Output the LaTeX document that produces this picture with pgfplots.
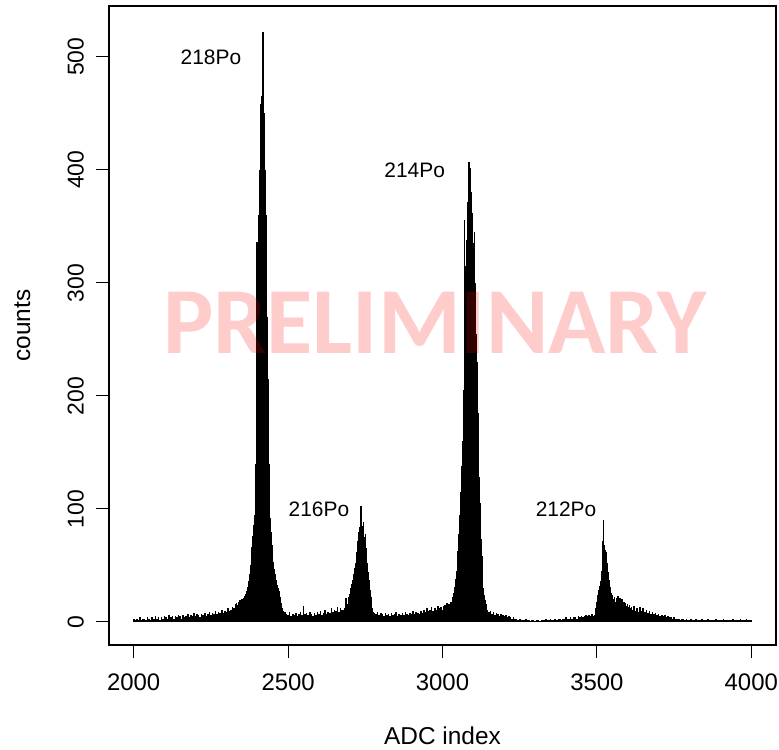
\documentclass[border=0pt]{standalone}
\usepackage{fontspec}
\setmainfont{Liberation Sans}
\newfontfamily\wmfont{Carlito}
\usepackage{pgfplots}
\pgfplotsset{compat=1.18}
\usetikzlibrary{calc}

\begin{document}
\begin{tikzpicture}
\begin{axis}[
  name=ax,
  scale only axis,
  width=667bp, height=639bp,
  xmin=1920, xmax=4080,
  ymin=-20.4, ymax=545,
  xtick={2000,2500,3000,3500,4000},
  ytick={0,100,200,300,400,500},
  tick pos=left,
  tick align=outside,
  major tick length=13bp,
  axis line style={line width=1.1bp},
  every tick/.style={black, line width=1.1bp},
  /pgf/number format/assume math mode=true,
  /pgf/number format/1000 sep={},
  xticklabel style={font=\fontsize{24}{24}\selectfont, inner sep=0pt, anchor=north, yshift=-16bp},
  yticklabel style={font=\fontsize{23}{23}\selectfont, inner sep=0pt, xshift=-12bp, rotate=90, anchor=south},
  xlabel={ADC index},
  ylabel={counts},
  xlabel style={font=\fontsize{24.5}{24.5}\selectfont, at={(axis description cs:0.5,-0.142)}, anchor=center},
  ylabel style={font=\fontsize{24.5}{24.5}\selectfont, at={(axis description cs:-0.130,0.5)}, anchor=center},
]
% spectrum, one spike per channel group (R type="h")
\addplot[ycomb, black, line width=1.6bp, mark=none] coordinates {
(2000,3)(2005,2)(2010,3)(2015,2)(2020,4)(2025,2)(2030,3)(2035,3)(2040,2)(2045,4)
(2050,3)(2055,2)(2060,4)(2065,3)(2070,5)(2075,3)(2080,4)(2085,2)(2090,4)(2095,3)
(2100,5)(2105,4)(2110,3)(2115,6)(2120,4)(2125,5)(2130,3)(2135,5)(2140,4)(2145,6)
(2150,5)(2155,3)(2160,6)(2165,4)(2170,5)(2175,7)(2180,4)(2185,6)(2190,5)(2195,8)
(2200,5)(2205,7)(2210,6)(2215,4)(2220,7)(2225,6)(2230,8)(2235,5)(2240,7)(2245,9)
(2250,6)(2255,8)(2260,7)(2265,10)(2270,7)(2275,9)(2280,8)(2285,11)(2290,8)(2295,10)
(2300,9)(2305,12)(2310,10)(2315,11)(2320,13)(2325,12)(2330,16)
(2333,17)(2336,15)(2339,18)(2342,16)(2345,19)(2348,17)(2351,20)(2354,18)(2357,21)
(2360,23)(2363,25)(2366,27)(2369,31)(2372,36)(2375,42)(2378,50)(2381,57)(2384,66)
(2387,76)(2390,86)(2392,95)(2394,115)(2396,140)(2398,171)(2400,336)(2402,280)
(2404,330)(2406,360)(2408,400)(2410,440)(2412,458)(2414,452)(2416,465)(2418,522)
(2420,455)(2422,450)(2424,438)(2426,400)(2428,360)(2430,322)(2432,270)(2434,215)
(2436,171)(2438,140)(2440,105)(2442,92)(2444,80)(2447,68)(2450,60)(2453,53)
(2456,47)(2459,42)(2462,37)(2465,33)(2468,30)(2471,27)(2474,22)(2477,17)(2480,12)
(2483,10)(2486,8)(2490,9)
(2495,7)(2500,6)(2505,9)(2510,5)(2515,7)(2520,6)(2525,8)(2530,5)(2535,7)(2540,9)
(2545,6)(2550,14)(2555,7)(2560,8)(2565,6)(2570,9)(2575,7)(2580,5)(2585,8)(2590,6)
(2595,9)(2600,7)(2605,10)(2610,6)(2615,8)(2620,11)(2625,7)(2630,9)(2635,8)(2640,12)
(2645,9)(2650,11)(2655,10)(2660,13)(2665,9)(2670,12)(2675,11)
(2678,10)(2681,11)(2684,12)(2687,21)(2690,13)(2694,16)(2697,22)(2700,25)(2704,30)
(2707,34)(2710,37)(2713,42)(2716,48)(2719,52)(2722,62)(2725,72)(2728,80)(2731,84)
(2734,90)(2736,103)(2738,92)(2741,85)(2744,88)(2747,75)(2750,78)(2753,65)(2756,52)
(2759,44)(2762,37)(2765,28)(2768,22)(2771,12)(2775,9)(2780,8)
(2785,7)(2790,9)(2795,6)(2800,8)(2805,7)(2810,5)(2815,8)(2820,6)(2825,7)(2830,5)
(2835,8)(2840,6)(2845,7)(2850,9)(2855,5)(2860,7)(2865,6)(2870,8)(2875,6)(2880,9)
(2885,7)(2890,6)(2895,8)(2900,7)(2905,10)(2910,7)(2915,9)(2920,8)(2925,7)(2930,10)
(2935,8)(2940,11)(2945,9)(2950,12)(2955,10)(2960,11)(2965,13)(2970,10)(2975,12)
(2980,11)(2985,14)(2990,12)(2995,13)
(3000,11)(3003,14)(3006,12)(3009,15)(3012,13)(3015,17)(3018,14)(3021,16)(3024,15)
(3027,18)(3030,17)(3033,22)(3036,26)(3039,31)(3042,38)(3045,45)(3048,53)(3051,63)
(3054,78)(3057,95)(3060,115)(3063,138)(3066,160)(3068,182)(3070,205)(3071,356)
(3073,270)(3075,300)(3077,315)(3079,338)(3081,350)(3083,372)(3085,395)(3086,407)
(3088,388)(3090,398)(3091,402)(3093,380)(3095,362)(3097,356)(3099,335)(3101,325)
(3103,345)(3105,300)(3107,285)(3109,255)(3111,230)(3113,205)(3115,185)(3117,155)
(3119,128)(3121,105)(3123,88)(3125,73)(3127,58)(3129,42)(3131,30)(3134,24)(3137,19)
(3140,16)(3143,13)(3146,11)(3150,9)
(3155,10)(3160,7)(3165,9)(3170,6)(3175,8)(3180,7)(3185,5)(3190,7)(3195,6)(3200,5)
(3205,6)(3210,4)(3215,5)(3220,4)(3225,3)(3230,4)(3235,3)(3240,3)(3245,2)(3250,3)
(3255,2)(3260,2)(3265,2)(3270,3)(3275,2)(3280,2)(3285,1)(3290,2)(3295,2)(3300,1)
(3305,2)(3310,2)(3315,1)(3320,2)(3325,2)(3330,2)(3335,3)(3340,2)(3345,2)(3350,3)
(3355,2)(3360,2)(3365,3)(3370,2)(3375,3)(3380,3)(3385,2)(3390,3)(3395,3)(3400,4)
(3405,3)(3410,3)(3415,4)(3420,3)(3425,4)(3430,4)(3435,3)(3440,5)(3445,4)(3450,5)
(3455,4)(3460,5)(3465,6)(3470,5)(3475,6)(3480,5)(3485,7)
(3490,5)(3493,6)(3496,8)(3498,12)(3500,18)(3503,24)(3506,28)(3509,32)(3512,36)
(3515,45)(3518,60)(3520,72)(3521,90)(3523,68)(3525,66)(3527,64)(3529,62)(3531,58)
(3533,52)(3536,44)(3539,37)(3542,31)(3545,26)(3548,22)(3551,24)(3554,20)(3557,22)
(3560,18)(3563,21)(3566,19)(3569,23)(3572,18)(3575,21)(3578,17)(3581,20)(3584,16)
(3587,18)(3590,15)(3593,17)(3596,14)(3599,16)(3602,13)(3605,15)(3608,12)
(3612,13)(3616,11)(3620,14)(3625,10)(3630,12)(3635,9)(3640,13)(3645,10)(3650,12)
(3655,9)(3660,11)(3665,8)(3670,10)(3675,7)(3680,9)(3685,7)(3690,8)(3695,6)(3700,7)
(3705,5)(3710,6)(3715,5)(3720,6)(3725,4)(3730,5)(3735,4)(3740,4)(3745,3)(3750,4)
(3755,3)(3760,3)(3765,3)(3770,2)(3775,3)(3780,3)(3785,2)(3790,3)(3795,2)(3800,2)
(3805,3)(3810,2)(3815,2)(3820,3)(3825,2)(3830,2)(3835,2)(3840,3)(3845,2)(3850,2)
(3855,2)(3860,3)(3865,2)(3870,2)(3875,2)(3880,2)(3885,3)(3890,2)(3895,2)(3900,2)
(3905,2)(3910,3)(3915,2)(3920,2)(3925,2)(3930,2)(3935,2)(3940,3)(3945,2)(3950,2)
(3955,2)(3960,2)(3965,3)(3970,2)(3975,2)(3980,2)(3985,3)(3990,2)(3995,2)(4000,2)
};
% peak labels
\node[font=\fontsize{21}{21}\selectfont] at (axis cs:2250,500) {218Po};
\node[font=\fontsize{21}{21}\selectfont] at (axis cs:2600,100) {216Po};
\node[font=\fontsize{21}{21}\selectfont] at (axis cs:2910,400) {214Po};
\node[font=\fontsize{21}{21}\selectfont] at (axis cs:3400,100) {212Po};
% watermark
\node[text=red, text opacity=0.2, inner sep=0pt,
      font=\wmfont\bfseries\fontsize{95}{95}\selectfont] at (axis cs:2975,265) {PRELIMINARY};
\end{axis}
\pgfresetboundingbox
\path[use as bounding box] ($(ax.south west)+(-109bp,-105bp)$) rectangle ($(ax.south west)+(670bp,645bp)$);
\end{tikzpicture}
\end{document}
